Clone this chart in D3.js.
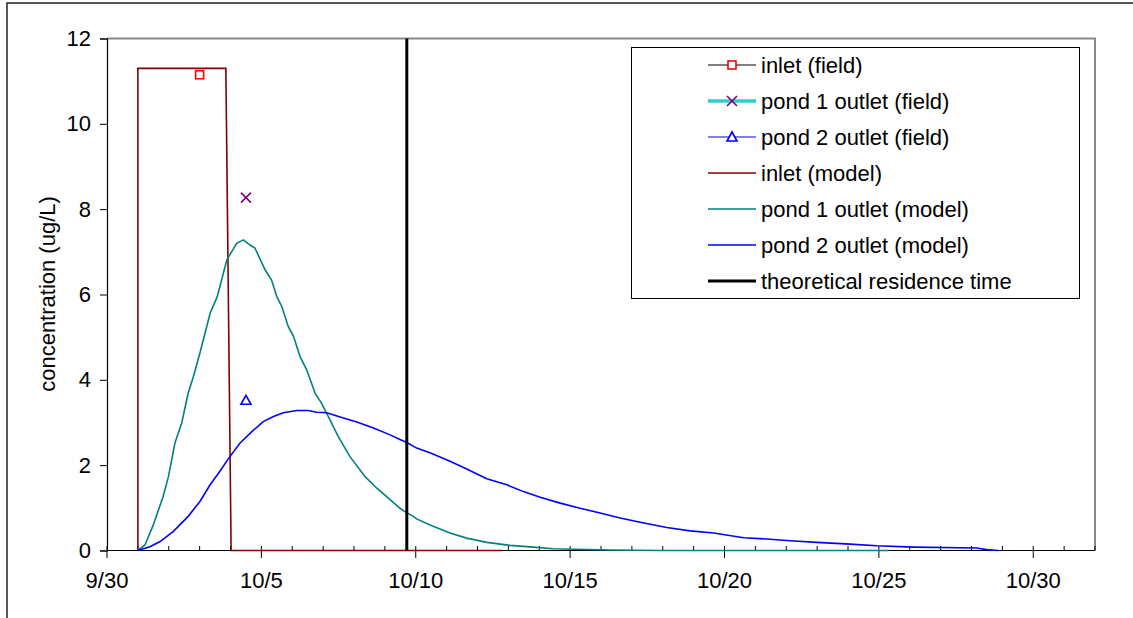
<!DOCTYPE html>
<html>
<head>
<meta charset="utf-8">
<script src="https://cdn.jsdelivr.net/npm/d3@7"></script>
<style>
  html, body { margin: 0; padding: 0; background: #fff; }
  svg { display: block; font-family: "Liberation Sans", Arial, sans-serif; }
</style>
</head>
<body>
<svg id="chart" width="1133" height="618"></svg>
<script>
// Time is given in days after 9/30 (0 = 9/30 00:00).
const xTickDays = [0, 5, 10, 15, 20, 25, 30];
const xTickLabels = ["9/30", "10/5", "10/10", "10/15", "10/20", "10/25", "10/30"];
const yTicks = [0, 2, 4, 6, 8, 10, 12];

// Model results
const inletModelDays   = [1.0, 1.0, 3.85, 4.02, 12.8];
const inletModelValues = [0, 11.3, 11.3, 0, 0];

const pond1ModelDays = [1.0, 1.23, 1.5, 1.82, 1.99, 2.2, 2.42, 2.63, 2.8, 3.01, 3.34, 3.57, 3.88,
  4.2, 4.42, 4.63, 4.79, 5.12, 5.33, 5.5, 5.66, 5.87, 6.04, 6.25, 6.47, 6.74, 6.95, 7.17, 7.49,
  7.87, 8.36, 8.74, 9.17, 9.49, 9.65, 9.92, 10.03, 10.46, 11.11, 11.65, 12.3, 13.05, 13.81,
  14.46, 16.3, 18.0, 25.3];
const pond1ModelValues = [0, 0.13, 0.6, 1.27, 1.73, 2.52, 2.99, 3.69, 4.08, 4.63, 5.56, 5.95, 6.81,
  7.2, 7.28, 7.16, 7.09, 6.58, 6.34, 5.95, 5.72, 5.25, 5.02, 4.55, 4.23, 3.69, 3.45, 3.14, 2.67,
  2.2, 1.73, 1.46, 1.19, 0.99, 0.91, 0.8, 0.74, 0.6, 0.41, 0.29, 0.19, 0.12, 0.08,
  0.04, 0.01, 0, 0];

const pond2ModelDays = [1.0, 1.39, 1.72, 2.15, 2.63, 3.01, 3.34, 3.61, 3.98, 4.31, 4.7, 5.06, 5.39,
  5.71, 6.15, 6.52, 6.79, 7.12, 7.55, 8.09, 8.63, 9.17, 9.49, 9.71, 10.03, 10.5, 11.11, 11.65,
  12.3, 12.95, 13.49, 14.03, 14.68, 15.32, 15.97, 16.62, 17.27, 18.13, 18.89, 19.65, 20.62,
  21.37, 22.13, 22.99, 24.07, 24.93, 26.12, 28.17, 28.49, 28.86];
const pond2ModelValues = [0, 0.09, 0.21, 0.45, 0.8, 1.15, 1.54, 1.81, 2.2, 2.52, 2.79, 3.02, 3.14,
  3.23, 3.28, 3.28, 3.24, 3.23, 3.13, 3.01, 2.87, 2.71, 2.6, 2.53, 2.4, 2.28, 2.09, 1.91,
  1.68, 1.54, 1.38, 1.25, 1.11, 0.99, 0.88, 0.76, 0.66, 0.54, 0.46, 0.41, 0.3,
  0.27, 0.23, 0.19, 0.15, 0.11, 0.08, 0.06, 0.02, 0];

// Field samples
const inletFieldDays = [3.0];
const inletFieldValues = [11.15];
const pond1FieldDays = [4.5];
const pond1FieldValues = [8.27];
const pond2FieldDays = [4.5];
const pond2FieldValues = [3.52];

// Theoretical residence time (days after 9/30)
const residenceDay = 9.71;

const legendLabels = ["inlet (field)", "pond 1 outlet (field)", "pond 2 outlet (field)",
  "inlet (model)", "pond 1 outlet (model)", "pond 2 outlet (model)", "theoretical residence time"];

const FONT = 22;
const svg = d3.select("#chart");
const plot = { left: 107, right: 1095, top: 38.5, bottom: 550.5 };

const x = d3.scaleLinear().domain([0, 32]).range([plot.left, plot.right]);
const y = d3.scaleLinear().domain([0, 12]).range([plot.bottom, plot.top]);

// Outer frame
svg.append("rect").attr("x", 7).attr("y", 3).attr("width", 1200).attr("height", 700)
  .attr("fill", "none").attr("stroke", "#222").attr("stroke-width", 1.5);

// Plot area border (top and right)
svg.append("path")
  .attr("d", `M${plot.left},${plot.top}H${plot.right}V${plot.bottom}`)
  .attr("fill", "none").attr("stroke", "#888").attr("stroke-width", 2);

// Y axis
const yAxis = d3.axisLeft(y).tickValues(yTicks).tickSize(7).tickPadding(9);
const gy = svg.append("g").attr("transform", `translate(${plot.left},0)`).call(yAxis);
gy.select(".domain").attr("stroke", "#000").attr("stroke-width", 1.2);
gy.selectAll(".tick line").attr("stroke", "#000");
gy.selectAll(".tick text").attr("font-size", FONT).attr("fill", "#000")
  .attr("font-family", "Liberation Sans, Arial, sans-serif");

// X axis: daily minor ticks inside, 5-day major ticks crossing the axis
const allDays = d3.range(0, 33);
const gx = svg.append("g");
gx.append("line").attr("x1", plot.left).attr("x2", plot.right)
  .attr("y1", plot.bottom).attr("y2", plot.bottom)
  .attr("stroke", "#000").attr("stroke-width", 1.2);
gx.selectAll("line.minor").data(allDays).enter().append("line")
  .attr("class", "minor")
  .attr("x1", d => x(d)).attr("x2", d => x(d))
  .attr("y1", plot.bottom - 4.5).attr("y2", d => xTickDays.includes(d) ? plot.bottom + 7.5 : plot.bottom)
  .attr("stroke", "#000").attr("stroke-width", 1);
gx.selectAll("text").data(xTickDays).enter().append("text")
  .attr("x", d => x(d)).attr("y", 588)
  .attr("text-anchor", "middle").attr("font-size", FONT).attr("fill", "#000")
  .text((d, i) => xTickLabels[i]);

// Y axis title
svg.append("text")
  .attr("transform", `translate(55,294) rotate(-90)`)
  .attr("text-anchor", "middle").attr("font-size", FONT).attr("fill", "#000")
  .text("concentration (ug/L)");

const line = d3.line().x(d => x(d[0])).y(d => y(d[1]));
const zip = (a, b) => a.map((v, i) => [v, b[i]]);

// Model lines
svg.append("path").datum(zip(inletModelDays, inletModelValues))
  .attr("d", line).attr("fill", "none").attr("stroke", "#800000").attr("stroke-width", 1.6);
svg.append("path").datum(zip(pond1ModelDays, pond1ModelValues))
  .attr("d", line).attr("fill", "none").attr("stroke", "#008080").attr("stroke-width", 1.6);
svg.append("path").datum(zip(pond2ModelDays, pond2ModelValues))
  .attr("d", line).attr("fill", "none").attr("stroke", "#0000FF").attr("stroke-width", 1.6);

// Theoretical residence time
svg.append("line")
  .attr("x1", x(residenceDay)).attr("x2", x(residenceDay))
  .attr("y1", y(12)).attr("y2", y(0))
  .attr("stroke", "#000").attr("stroke-width", 3);

// Marker drawers
function squareMarker(g, cx, cy) {
  g.append("rect").attr("x", cx - 4).attr("y", cy - 4).attr("width", 8).attr("height", 8)
    .attr("fill", "#fff").attr("stroke", "#FF0000").attr("stroke-width", 1.6);
}
function crossMarker(g, cx, cy) {
  g.append("path").attr("d", `M${cx - 5},${cy - 5}L${cx + 5},${cy + 5}M${cx - 5},${cy + 5}L${cx + 5},${cy - 5}`)
    .attr("stroke", "#800080").attr("stroke-width", 1.6).attr("fill", "none");
}
function triangleMarker(g, cx, cy) {
  g.append("path").attr("d", `M${cx},${cy - 5}L${cx + 5},${cy + 4}L${cx - 5},${cy + 4}Z`)
    .attr("stroke", "#0000FF").attr("stroke-width", 1.6).attr("fill", "#fff");
}

const markers = svg.append("g");
zip(inletFieldDays, inletFieldValues).forEach(d => squareMarker(markers, x(d[0]), y(d[1])));
zip(pond1FieldDays, pond1FieldValues).forEach(d => crossMarker(markers, x(d[0]), y(d[1])));
zip(pond2FieldDays, pond2FieldValues).forEach(d => triangleMarker(markers, x(d[0]), y(d[1])));

// Legend
const legend = svg.append("g");
legend.append("rect").attr("x", 631.5).attr("y", 47.5).attr("width", 448).attr("height", 251)
  .attr("fill", "#fff").attr("stroke", "#000").attr("stroke-width", 1);

const legendStyles = [
  { color: "#000", width: 1.2, marker: squareMarker },
  { color: "#33CCCC", width: 3.5, marker: crossMarker },
  { color: "#0000FF", width: 1.2, marker: triangleMarker },
  { color: "#800000", width: 1.6 },
  { color: "#008080", width: 1.6 },
  { color: "#0000FF", width: 1.6 },
  { color: "#000", width: 3.2 }
];
legendLabels.forEach((label, i) => {
  const cy = 65 + i * 36;
  const s = legendStyles[i];
  legend.append("line").attr("x1", 708).attr("x2", 756).attr("y1", cy).attr("y2", cy)
    .attr("stroke", s.color).attr("stroke-width", s.width);
  if (s.marker) s.marker(legend, 732, cy);
  legend.append("text").attr("x", 761).attr("y", cy + 8)
    .attr("font-size", FONT).attr("fill", "#000").text(label);
});
</script>
</body>
</html>
